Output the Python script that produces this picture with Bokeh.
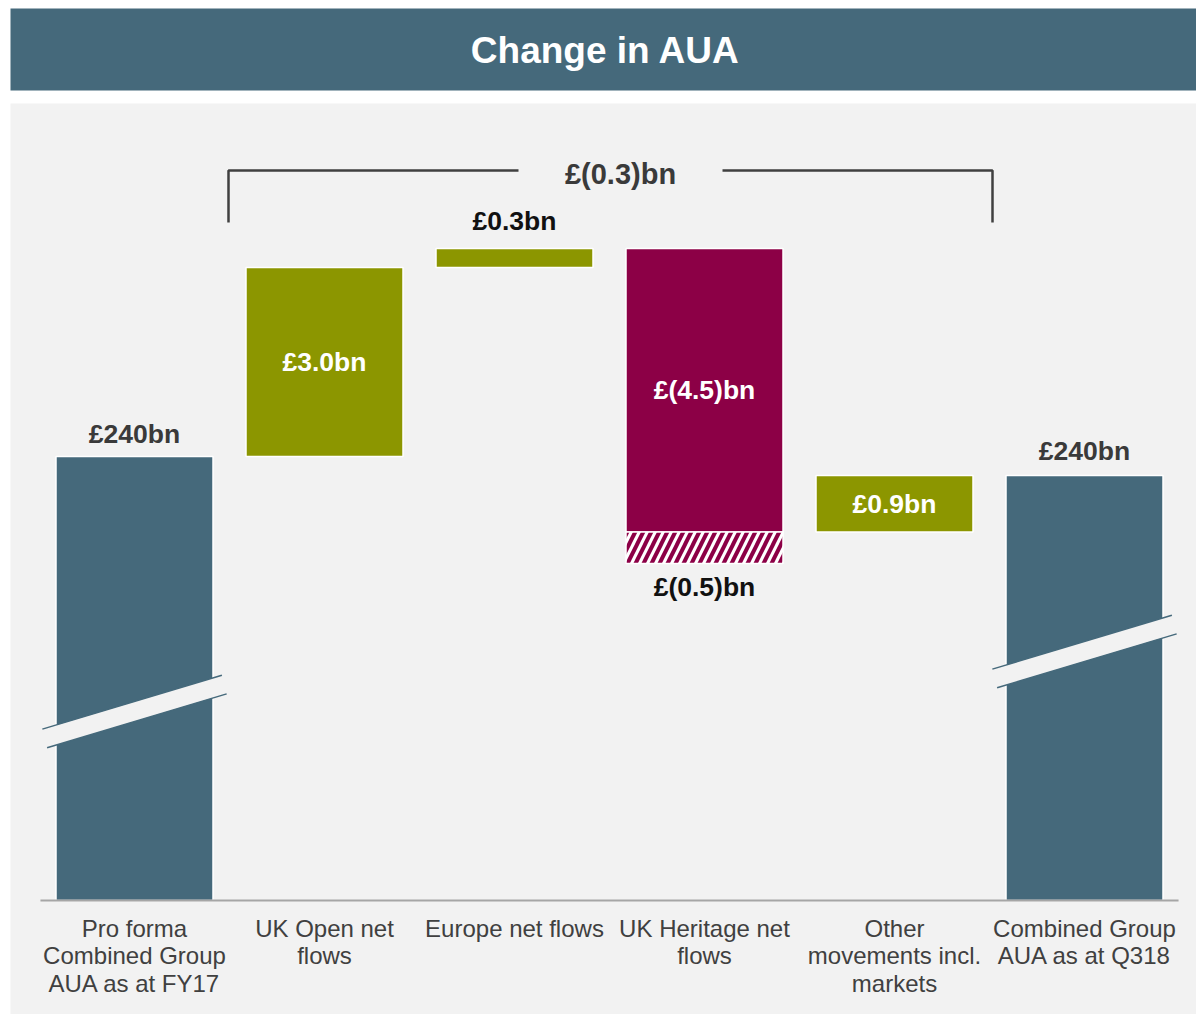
import numpy as np
from bokeh.plotting import figure
from bokeh.models import Range1d, ColumnDataSource, BoxAnnotation, Label
from bokeh.core.properties import value
from bokeh.embed import file_html
from bokeh.resources import INLINE

# ---------------- data ----------------
title_text = "Change in AUA"
categories = [
    "Pro forma\nCombined Group\nAUA as at FY17",
    "UK Open net\nflows",
    "Europe net flows",
    "UK Heritage net\nflows",
    "Other\nmovements incl.\nmarkets",
    "Combined Group\nAUA as at Q318",
]
start_value = 240.0                     # £bn
changes = [3.0, 0.3, -4.5, 0.9]         # UK Open, Europe, UK Heritage, Other
heritage_extra = -0.5                   # hatched part under UK Heritage
start_label = "£240bn"
end_label = "£240bn"
change_labels = ["£3.0bn", "£0.3bn", "£(4.5)bn", "£0.9bn"]
extra_label = "£(0.5)bn"
total_change_label = "£(0.3)bn"

# ---------------- style ----------------
TEAL = "#45697b"
OLIVE = "#8c9600"
CRIMSON = "#8c0046"
BG = "#f2f2f2"
DARK = "#3a3a3a"
FONT_NAME = "Liberation Sans"
FONT = value(FONT_NAME)

W, H = 1196, 1014
PX = 63.0            # pixels per £bn
STEP = 190.0         # pixels per category
X0 = 134.0           # canvas x of first category
x_start = -X0 / STEP
x_end = (W - X0) / STEP
TOP_PX = 456.0       # canvas y of start value
y_top = start_value + TOP_PX / PX
y_bot = y_top - H / PX


def dy(px):
    return px / PX


def ypage(py):  # canvas pixel y -> data
    return y_top - py / PX


def xpage(px):  # canvas pixel x -> data
    return (px - X0) / STEP


baseline = ypage(900)
BAR_W = 157 / STEP

p = figure(width=W, height=H, x_range=Range1d(x_start, x_end),
           y_range=Range1d(y_bot, y_top), output_backend="svg",
           toolbar_location=None, x_axis_location=None, y_axis_location=None,
           min_border=0, background_fill_color="white", border_fill_color="white")
p.grid.visible = False
p.outline_line_color = None

# title bar + grey panel
p.add_layout(BoxAnnotation(left=xpage(10), bottom=ypage(90), top=ypage(8),
                           fill_color=TEAL, fill_alpha=1, line_color=None,
                           level="underlay"))
p.add_layout(BoxAnnotation(left=xpage(10), top=ypage(103), fill_color=BG,
                           fill_alpha=1, line_color=None, level="underlay"))
p.add_layout(Label(x=xpage(605), y=ypage(50), text=title_text,
                   text_font=FONT_NAME, text_font_style="bold", text_font_size="37px",
                   text_color="white", text_align="center", text_baseline="middle"))

# ---------------- waterfall geometry ----------------
n = len(categories)
xs = np.arange(n)
bottoms, tops, colors = [], [], []
bottoms.append(baseline); tops.append(start_value); colors.append(TEAL)
level = start_value
levels_after = []
for c in changes:
    b, t = level, level + c
    bottoms.append(min(b, t)); tops.append(max(b, t))
    colors.append(OLIVE if c > 0 else CRIMSON)
    level += c
    levels_after.append(level)
end_value = level
bottoms.append(baseline); tops.append(end_value); colors.append(TEAL)

src = ColumnDataSource(dict(x=xs, bottom=bottoms, top=tops, color=colors))
p.vbar(x="x", width=BAR_W, bottom="bottom", top="top", fill_color="color",
       line_color="white", line_width=1.5, source=src)

# hatched extra under UK Heritage
hi = 3
h_top = levels_after[2]
h_bot = h_top + heritage_extra
p.vbar(x=[hi], width=BAR_W, bottom=[h_bot], top=[h_top], fill_color="white",
       hatch_pattern="/", hatch_color=CRIMSON, hatch_weight=4, hatch_scale=16,
       line_color="white", line_width=1.5)

# axis break bands
slope = 0.3 * STEP / PX  # data per x unit
half = dy(10)
for idx, cy_px in [(0, 711), (n - 1, 651)]:
    cy = ypage(cy_px)
    xl, xr = idx - 0.49, idx + 0.49

    def yl(x, off):
        return cy + off + slope * (x - idx)
    p.patch([xl, xr, xr, xl], [yl(xl, half), yl(xr, half), yl(xr, -half), yl(xl, -half)],
            fill_color=BG, line_color=None)
    p.segment(x0=[idx - 0.485, idx - 0.46], y0=[yl(idx - 0.485, half), yl(idx - 0.46, -half)],
              x1=[idx + 0.46, idx + 0.485], y1=[yl(idx + 0.46, half), yl(idx + 0.485, -half)],
              line_color=TEAL, line_width=1.5)

# baseline axis line
p.segment(x0=[-0.495], y0=[baseline], x1=[n - 0.505], y1=[baseline],
          line_color="#a6a6a6", line_width=2)

# ---------------- labels ----------------
# outside labels
out_x = [0, 2, n - 1, hi]
out_y = [start_value + dy(23), tops[2] + dy(28), end_value + dy(24), h_bot - dy(23)]
out_t = [start_label, change_labels[1], end_label, extra_label]
out_c = [DARK, "#111111", DARK, "#111111"]
p.text(x=out_x, y=out_y, text=out_t, text_color=out_c, text_font=FONT,
       text_font_style="bold", text_font_size="26.5px", text_align="center",
       text_baseline="middle")

# inside labels
in_idx = [1, 3, 4]
in_y = [(bottoms[i] + tops[i]) / 2 for i in in_idx]
in_t = [change_labels[i - 1] for i in in_idx]
p.text(x=in_idx, y=in_y, text=in_t, text_color="white", text_font=FONT,
       text_font_style="bold", text_font_size="26.5px", text_align="center",
       text_baseline="middle")

# bracket for total change
br_top = ypage(170)
br_bot = ypage(222)
bx0, bx1 = xpage(228), xpage(992)
gap0, gap1 = xpage(518), xpage(722)
p.multi_line(xs=[[bx0, bx0, gap0], [gap1, bx1, bx1]],
             ys=[[br_bot, br_top, br_top], [br_top, br_top, br_bot]],
             line_color="#404040", line_width=2.5)
p.text(x=[xpage(620)], y=[ypage(173)], text=[total_change_label], text_color=DARK,
       text_font=FONT, text_font_style="bold", text_font_size="29px",
       text_align="center", text_baseline="middle")

# category labels
p.text(x=xs, y=[ypage(914)] * n, text=categories, text_color="#404040",
       text_font=FONT, text_font_size="24px", text_align="center",
       text_baseline="top", text_line_height=1.02)

open("out.html", "w").write(file_html(p, INLINE))
